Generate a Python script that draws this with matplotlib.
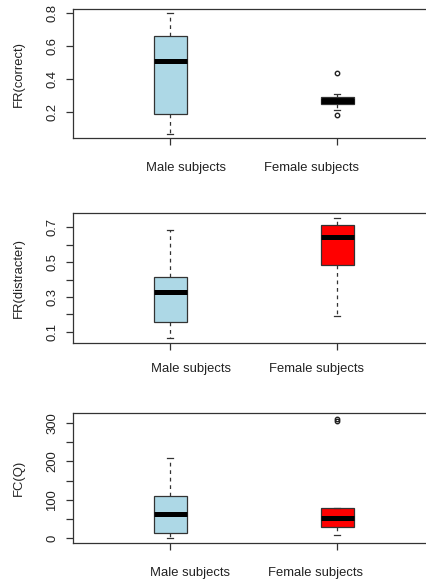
import matplotlib
matplotlib.use('Agg')
import matplotlib.pyplot as plt

plt.rcParams['font.family'] = ['Liberation Sans', 'DejaVu Sans']
plt.rcParams['font.size'] = 9.4

labels = ['Male subjects', 'Female subjects']
# the thin female box of the first panel is fully covered by its median
box_colors = [['lightblue', 'black'], ['lightblue', 'red'], ['lightblue', 'red']]

# five-number summaries: whisker low, Q1, median, Q3, whisker high
fr_correct_male = [0.063, 0.186, 0.509, 0.660, 0.796]
fr_correct_female = [0.21, 0.245, 0.265, 0.287, 0.305]
fr_correct_fliers = [[], [0.178, 0.433]]

fr_distracter_male = [0.062, 0.154, 0.330, 0.416, 0.683]
fr_distracter_female = [0.192, 0.483, 0.646, 0.713, 0.755]
fr_distracter_fliers = [[], []]

fc_q_male = [0, 14, 64, 109, 208]
fc_q_female = [9, 29, 53, 78, 78]
fc_q_fliers = [[], [304, 311]]

panels = [
    ('FR(correct)', [fr_correct_male, fr_correct_female], fr_correct_fliers,
     (0.039, 0.822), [0.2, 0.4, 0.6, 0.8], ['0.2', '0.4', '0.6', '0.8']),
    ('FR(distracter)', [fr_distracter_male, fr_distracter_female], fr_distracter_fliers,
     (0.037, 0.78), [0.1, 0.2, 0.3, 0.4, 0.5, 0.6, 0.7], ['0.1', '', '0.3', '', '0.5', '', '0.7']),
    ('FC(Q)', [fc_q_male, fc_q_female], fc_q_fliers,
     (-11, 325), [0, 50, 100, 150, 200, 250, 300], ['0', '', '100', '', '200', '', '300']),
]

# text position of the group names (R mtext, slightly off the ticks)
label_x = [[1.096, 1.844], [1.126, 1.874], [1.12, 1.87]]
label_off = [-30, -26, -30]

bottoms = [0.762, 0.410, 0.066]
edge = '#333333'

fig = plt.figure(figsize=(4.26, 5.81), dpi=100)
for i, (ylab, summ, fliers, ylim, yt, ytl) in enumerate(panels):
    ax = fig.add_axes([0.1725, bottoms[i], 0.8467, 0.2227])
    stats = []
    for s, f in zip(summ, fliers):
        stats.append(dict(whislo=s[0], q1=s[1], med=s[2], q3=s[3], whishi=s[4], fliers=f))
    bp = ax.bxp(stats, positions=[1, 2], widths=0.2, patch_artist=True, showfliers=True,
                capwidths=0.035,
                boxprops=dict(edgecolor=edge, linewidth=0.9),
                medianprops=dict(color='black', linewidth=3.6, solid_capstyle='butt'),
                whiskerprops=dict(color=edge, linewidth=0.9, linestyle=(0, (3, 3))),
                capprops=dict(color=edge, linewidth=0.9),
                flierprops=dict(marker='o', markerfacecolor='none', markeredgecolor='#222222',
                                markersize=3.2, markeredgewidth=1.0))
    for patch, c in zip(bp['boxes'], box_colors[i]):
        patch.set_facecolor(c)
    ax.set_xlim(0.42, 2.58)
    ax.set_ylim(*ylim)
    ax.set_xticks([1, 2])
    ax.set_xticklabels(['', ''])
    ax.set_yticks(yt)
    ax.set_yticklabels(ytl, rotation=90, va='center')
    ax.tick_params(direction='out', length=5, width=0.9, color=edge, labelcolor='#222222', pad=6)
    for sp in ax.spines.values():
        sp.set_color(edge)
        sp.set_linewidth(0.9)
    ax.set_ylabel(ylab, color='#222222')
    ax.yaxis.set_label_coords(-0.135, 0.5)
    for lx, lab in zip(label_x[i], labels):
        ax.annotate(lab, xy=(lx, 0), xycoords=('data', 'axes fraction'),
                    xytext=(0, label_off[i]), textcoords='offset pixels',
                    ha='center', va='center', color='#222222')

fig.savefig('out.png', dpi=100)
